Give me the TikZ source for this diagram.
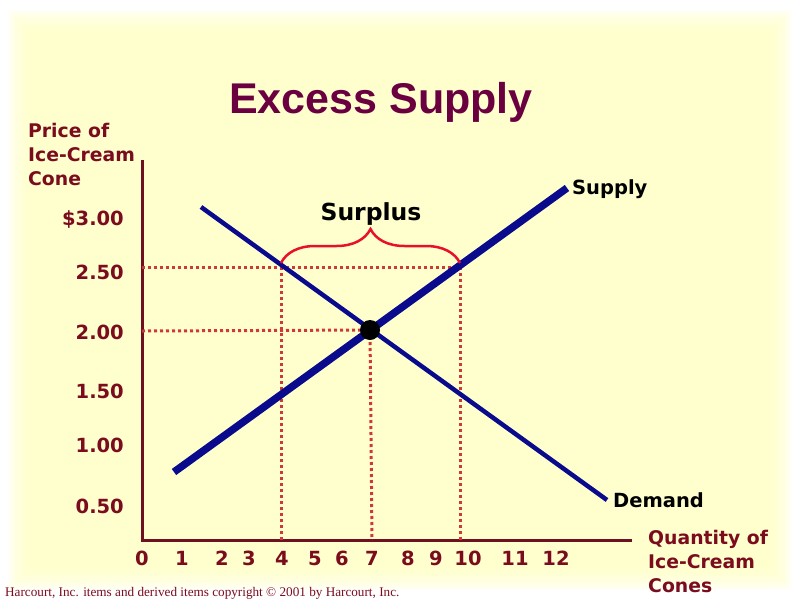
\documentclass[tikz,border=0pt]{standalone}
\usepackage{fontspec}
\setmainfont{DejaVu Sans}
\newfontfamily\titlefont{Liberation Sans}
\newfontfamily\footfont{Liberation Serif}
\usetikzlibrary{decorations.pathreplacing}
\definecolor{bgyellow}{HTML}{FFFFC8}
\definecolor{maroonlab}{HTML}{7A0C1E}
\definecolor{titlecol}{HTML}{6B0040}
\definecolor{axiscol}{HTML}{6E1020}
\definecolor{dotcol}{HTML}{D03838}
\definecolor{bracecol}{HTML}{E8102A}
\definecolor{navy}{HTML}{0A0A8C}
\tikzset{
  axisline/.style={draw=axiscol, line width=3pt},
  guide/.style={draw=dotcol, line width=3pt, dash pattern=on 3pt off 3pt},
  lab/.style={font=\bfseries\fontsize{18.8}{24}\selectfont, text=maroonlab, inner sep=0pt},
  ticklab/.style={font=\bfseries\fontsize{19.5}{24}\selectfont, text=maroonlab, inner sep=0pt},
  curvelab/.style={font=\bfseries\fontsize{19.5}{24}\selectfont, text=black, inner sep=0pt, anchor=base west},
}
\begin{document}
\begin{tikzpicture}[x=1pt,y=-1pt]
\useasboundingbox (0,0) rectangle (800,600);
\fill[white] (0,0) rectangle (800,600);
\foreach \i in {0,...,11}{
  \fill[bgyellow, opacity=0.14] (8+2*\i,10+2*\i) rectangle (792-2*\i,590-2*\i);
}
% title
\node[font=\titlefont\bfseries\fontsize{43}{48}\selectfont, text=titlecol, inner sep=0pt, anchor=base] (title) at (381,113) {Excess Supply};
% axis labels
\node[lab, anchor=base west, align=left] (ylab) at (28,185) {Price of\\Ice-Cream\\Cone};
\node[lab, anchor=base west, align=left] (xlab) at (648,592) {Quantity of\\Ice-Cream\\Cones};
% axes
\coordinate (ytop) at (142,160);
\coordinate (origin) at (142,540);
\coordinate (xend) at (632,540);
\draw[axisline] (ytop) -- (origin) -- (xend);
% y tick labels
\foreach \v/\y in {\$3.00/225, 2.50/279, 2.00/339, 1.50/398, 1.00/452, 0.50/513}{
  \node[ticklab, anchor=base east] at (124,\y) {\v};
}
% x tick labels
\foreach \v/\x in {0/142, 1/182, 2/222, 3/249, 4/282, 5/315, 6/342, 7/372, 8/408, 9/436, 10/468, 11/515, 12/556}{
  \node[ticklab, anchor=base] at (\x,565) {\v};
}
% guide coordinates
\coordinate (y250) at (142,267);
\coordinate (y200) at (142,331);
\coordinate (d250) at (281,267);
\coordinate (s250) at (460,267);
\coordinate (q4) at (281,540);
\coordinate (q10) at (460,540);
\coordinate (q7) at (372,540);
\coordinate (eq) at (370,330);
\draw[guide] (y250) -- (s250);
\draw[guide] (d250) -- (q4);
\draw[guide] (s250) -- (q10);
\draw[guide] (y200) -- (eq);
\draw[guide] (eq) -- (q7);
% curves
\coordinate (sA) at (174,472);
\coordinate (sB) at (567,188);
\coordinate (dA) at (201,207);
\coordinate (dB) at (607,500);
\draw[navy, line width=4.5pt] (dA) -- (dB);
\draw[navy, line width=7.5pt] (sA) -- (sB);
\fill[black] (eq) circle (10);
% brace
\coordinate (bL) at (281,263);
\coordinate (bR) at (460,263);
\draw[bracecol, line width=2.5pt, decoration={brace, amplitude=34pt, aspect=0.5}, decorate] (bL) -- (bR);
\node[font=\bfseries\fontsize{23.5}{28}\selectfont, inner sep=0pt, anchor=base] (surplus) at (371,220) {Surplus};
% curve labels
\node[curvelab] (supplylab) at (572,194) {Supply};
\node[curvelab] (demandlab) at (613,507) {Demand};
% footer
\node[font=\footfont\fontsize{13.2}{15}\selectfont, text=maroonlab, anchor=base west, inner sep=0pt] (foot) at (5,596) {Harcourt, Inc. items and derived items copyright \textcopyright{} 2001 by Harcourt, Inc.};
\end{tikzpicture}
\end{document}
